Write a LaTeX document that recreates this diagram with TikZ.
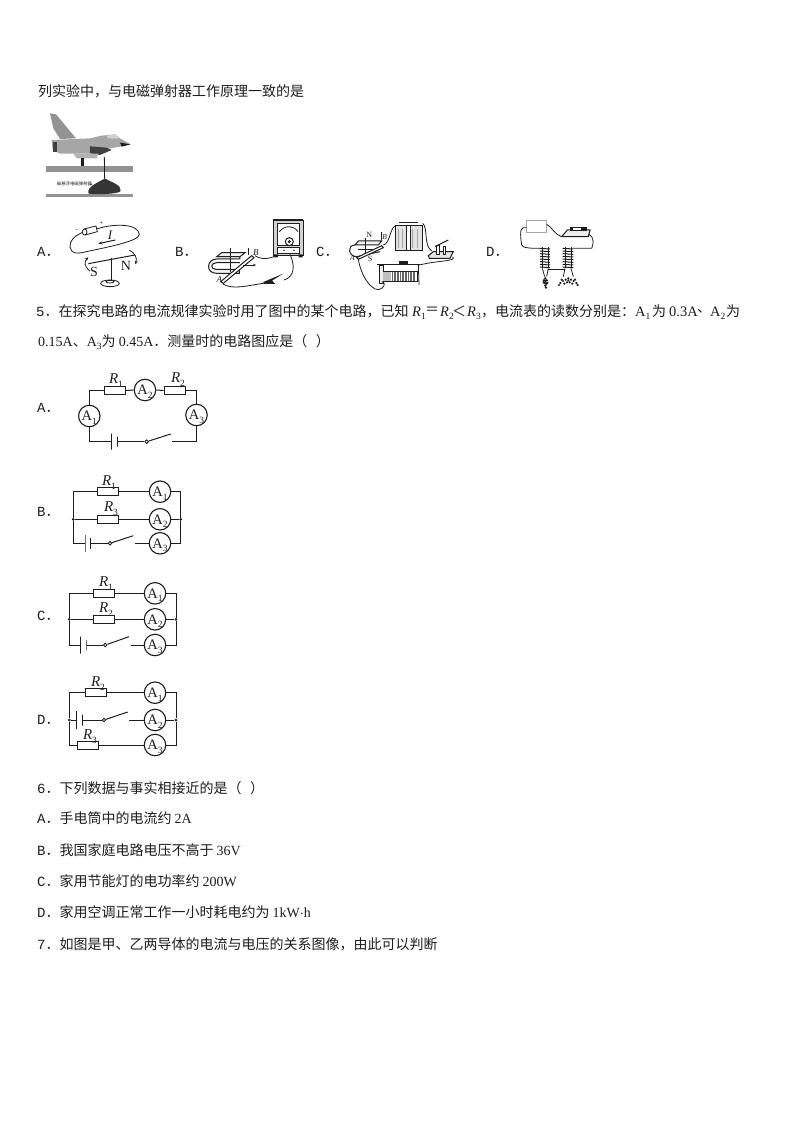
\documentclass[tikz,border=0pt]{standalone}
\usepackage{fontspec}
\setmainfont{Liberation Serif}
\newfontfamily\cjk{Noto Sans CJK SC}
\newfontfamily\mon{Liberation Mono}
\usetikzlibrary{arrows.meta}
\definecolor{ink}{HTML}{1E1E1E}
\tikzset{
  para/.style={anchor=west,inner sep=0pt,font=\fontsize{14}{14}\selectfont\cjk,text=ink},
  latin/.style={anchor=base west,inner sep=0pt,font=\fontsize{14.5}{14.5}\selectfont\rmfamily,text=ink},
  optlabel/.style={anchor=west,inner sep=0pt,font=\fontsize{14}{14}\selectfont\mon,text=ink},
  wire/.style={draw=ink,line width=1pt},
  thinw/.style={draw=ink,line width=0.8pt},
  meter/.style={circle,draw=ink,line width=1.1pt,fill=white,inner sep=0pt,minimum size=21.5pt,font=\fontsize{14.5}{14.5}\selectfont,text=ink},
  resbox/.style={rectangle,draw=ink,line width=1pt,fill=white,inner sep=0pt,minimum width=21pt,minimum height=8pt},
  rlabel/.style={inner sep=0pt,font=\fontsize{15}{15}\selectfont\itshape,text=ink},
  plate/.style={rectangle,draw=ink,line width=1pt,inner sep=0pt,minimum width=0pt},
  swdot/.style={circle,draw=ink,line width=0.9pt,fill=white,inner sep=0pt,minimum size=3.6pt},
  jdot/.style={circle,fill=ink,inner sep=0pt,minimum size=3pt},
  smalllab/.style={inner sep=0pt,text=ink},
}
\newcommand{\sB}[1]{\raisebox{-0.25em}[0pt][0pt]{\fontsize{9.5}{9.5}\selectfont\upshape #1}}
\newcommand{\Aname}[1]{A\sB{#1}}
\newcommand{\fdot}{{\cjk ．}}
\begin{document}
\begin{tikzpicture}[x=1pt,y=-1pt]
\useasboundingbox (0,0) rectangle (794,1123);
\fill[white] (0,0) rectangle (794,1123);

% ---------- text ----------
\node[para] (t0) at (38,91) {列实验中，与电磁弹射器工作原理一致的是};
\node[para] (t5a) at (36,311) {{\mon 5}．在探究电路的电流规律实验时用了图中的某个电路，已知};
\node[latin] (t5r1) at (412,316) {\itshape R\sB{1}};
\node[para] (t5eq) at (425,311) {＝};
\node[latin] (t5r2) at (440,316) {\itshape R\sB{2}};
\node[para] (t5lt) at (452,311) {＜};
\node[latin] (t5r3) at (467,316) {\itshape R\sB{3}};
\node[para] (t5c) at (481,311) {，电流表的读数分别是：};
\node[latin] (t5a1) at (635,316) {A\sB{1}};
\node[para] (t5w1) at (652,311) {为};
\node[latin] (t5v1) at (669,316) {0.3A};
\node[para] (t5dun) at (697,311) {、};
\node[latin] (t5a2) at (710,316) {A\sB{2}};
\node[para] (t5w2) at (726,311) {为};
\node[para] (t5b) at (38,341) {{\rmfamily 0.15A}、{\rmfamily A}\sB{\rmfamily 3}为 {\rmfamily 0.45A}．测量时的电路图应是（\hspace{0.6em}）};
\node[optlabel] (o4a) at (37,252) {A\fdot};
\node[optlabel] (o4b) at (175,252) {B\fdot};
\node[optlabel] (o4c) at (316,252) {C\fdot};
\node[optlabel] (o4d) at (486,252) {D\fdot};
\node[optlabel] (o5a) at (37,408) {A\fdot};
\node[optlabel] (o5b) at (37,512) {B\fdot};
\node[optlabel] (o5c) at (37,616) {C\fdot};
\node[optlabel] (o5d) at (37,720) {D\fdot};
\node[para] (t6) at (37,788) {{\mon 6}．下列数据与事实相接近的是（\hspace{0.6em}）};
\node[para] (t6a) at (37,818) {{\mon A}．手电筒中的电流约 {\rmfamily 2A}};
\node[para] (t6b) at (37,850) {{\mon B}．我国家庭电路电压不高于 {\rmfamily 36V}};
\node[para] (t6c) at (37,881) {{\mon C}．家用节能灯的电功率约 {\rmfamily 200W}};
\node[para] (t6d) at (37,912) {{\mon D}．家用空调正常工作一小时耗电约为 {\rmfamily 1kW$\cdot$h}};
\node[para] (t7) at (37,944) {{\mon 7}．如图是甲、乙两导体的电流与电压的关系图像，由此可以判断};

% ---------- plane ----------
\begin{scope}[shift={(40,105)},x=0.3333pt,y=-0.3333pt]
  \fill[gray!85] (18,183) rectangle (280,201);
  \fill[gray!85] (18,268) rectangle (280,275);
  \fill[gray!85] (30,25) -- (48,28) -- (108,100) -- (60,102) -- (40,70) -- cycle;
  \fill[gray!70] (35,105) -- (150,100) -- (185,92) -- (225,88) -- (240,100) -- (272,118) -- (240,125) -- (180,135) -- (150,146) -- (60,146) -- (38,135) -- cycle;
  \fill[ink!85] (40,110) rectangle (52,140);
  \fill[gray!50!black] (150,124) -- (200,128) -- (215,135) -- (180,150) -- (150,145) -- cycle;
  \fill[gray!60] (100,146) -- (175,146) -- (170,160) -- (110,160) -- cycle;
  \fill[ink] (124,158) rectangle (132,182);
  \fill[ink] (240,113) -- (272,118) -- (245,125) -- cycle;
  \fill[gray!35] (200,92) -- (225,88) -- (238,100) -- (205,100) -- cycle;
  \draw[ink,line width=0.8pt] (193,155) -- (194,222);
  \fill[ink!90] (145,265) .. controls (140,245) and (175,232) .. (192,222) -- (198,222)
     .. controls (215,232) and (245,240) .. (242,258) .. controls (240,268) and (150,270) .. (145,265) -- cycle;
  \node[smalllab,font=\fontsize{4.4}{4.4}\selectfont\cjk,anchor=west] (planelabel) at (50,237) {磁悬浮电磁弹射器};
  \draw[ink,line width=0.5pt] (planelabel.east) -- (150,240);
\end{scope}

% ---------- option 4A ----------
\begin{scope}[shift={(60,215)},x=0.3333pt,y=-0.3333pt]
  \draw[thinw] (110,42) .. controls (160,25) and (235,25) .. (238,58) .. controls (238,78) and (150,95) .. (65,113)
     .. controls (35,120) and (25,100) .. (32,82) .. controls (40,65) and (55,58) .. (68,52);
  \draw[thinw,fill=white] (72,42) -- (108,33) -- (112,50) -- (76,60) -- cycle;
  \draw[thinw,fill=white] (74,51) circle[x radius=7,y radius=9];
  \node[smalllab,font=\fontsize{7}{7}\selectfont] (a4minus) at (50,46) {-};
  \node[smalllab,font=\fontsize{7}{7}\selectfont] (a4plus) at (124,27) {+};
  \node[smalllab,font=\fontsize{13}{13}\selectfont\itshape] (a4I) at (150,60) {I};
  \draw[wire,-{Stealth[length=4pt,width=3pt]}] (166,75) -- (115,86);
  \draw[wire] (85,146) -- (225,120);
  \draw[wire] (154,128) -- (154,195);
  \draw[thinw,fill=white] (150,205) ellipse[x radius=28,y radius=10];
  \draw[thinw] (150,200) ellipse[x radius=12,y radius=4];
  \node[smalllab,font=\fontsize{14}{14}\selectfont] (a4S) at (102,170) {S};
  \node[smalllab,font=\fontsize{14}{14}\selectfont] (a4N) at (198,153) {N};
  \draw[thinw,-{Stealth[length=3.5pt,width=3pt]}] (90,168) .. controls (72,155) and (72,140) .. (85,127);
  \draw[thinw,-{Stealth[length=3.5pt,width=3pt]}] (208,105) .. controls (226,115) and (232,130) .. (226,148);
\end{scope}

% ---------- option 4B ----------
\begin{scope}[shift={(200,215)},x=0.3333pt,y=-0.3333pt]
  \draw[thinw,fill=gray!35] (220,15) rectangle (310,122);
  \fill[ink] (220,12) rectangle (310,19);
  \draw[thinw,fill=white] (232,25) rectangle (298,92);
  \draw[thinw] (238,50) .. controls (255,30) and (280,30) .. (294,50);
  \draw[wire,fill=white] (268,80) circle[radius=12];
  \fill[ink] (268,80) circle[radius=5];
  \draw[thinw,fill=white] (232,96) rectangle (298,116);
  \fill[ink] (252,106) circle[radius=2.5] (282,106) circle[radius=2.5];
  \fill[ink] (222,118) rectangle (234,127) (296,118) rectangle (308,127);
  \draw[wire,fill=gray!10] (50,125) -- (120,125) -- (135,113) -- (65,113) -- cycle;
  \draw[wire,fill=gray!10] (50,125) -- (120,125) -- (120,132) -- (50,132) .. controls (20,132) and (15,175) .. (50,175) -- (118,175) -- (118,163) -- (48,163) .. controls (30,163) and (32,143) .. (50,143) -- (120,143);
  \draw[thinw] (92,100) -- (92,172);
  \draw[thinw] (145,98) -- (145,120);
  \draw[wire,fill=white] (62,200) -- (155,122) -- (162,128) -- (70,205) -- cycle;
  \draw[thinw,-{Stealth[length=3pt,width=2.5pt]}] (130,150) -- (168,150);
  \node[smalllab,font=\fontsize{9}{9}\selectfont\itshape] (b4B) at (168,112) {B};
  \node[smalllab,font=\fontsize{9}{9}\selectfont\itshape] (b4A) at (58,193) {A};
  \draw[thinw] (165,122) .. controls (185,135) and (210,132) .. (232,120);
  \draw[thinw] (270,118) .. controls (285,150) and (285,185) .. (252,195);
  \draw[thinw] (68,207) .. controls (100,225) and (140,212) .. (190,205);
  \fill[ink] (190,201) -- (250,176) -- (216,197) -- (226,207) -- (190,207) -- cycle;
\end{scope}

% ---------- option 4C ----------
\begin{scope}[shift={(340,215)},x=0.3333pt,y=-0.3333pt]
  \draw[wire,fill=gray!10] (45,90) -- (115,90) -- (125,78) -- (55,78) -- cycle;
  \draw[wire] (45,90) .. controls (20,90) and (25,125) .. (50,125) -- (120,110);
  \draw[wire] (55,105) -- (115,105);
  \draw[thinw] (75,70) -- (75,115);
  \draw[wire,fill=white] (50,128) -- (125,92) -- (130,98) -- (55,133) -- cycle;
  \node[smalllab,font=\fontsize{8}{8}\selectfont] (c4N) at (88,60) {N};
  \node[smalllab,font=\fontsize{8}{8}\selectfont] (c4S) at (90,132) {S};
  \node[smalllab,font=\fontsize{7.5}{7.5}\selectfont\itshape] (c4B) at (134,65) {B};
  \node[smalllab,font=\fontsize{7.5}{7.5}\selectfont\itshape] (c4A) at (37,130) {A};
  \draw[thinw] (125,75) -- (125,50);
  \draw[thinw] (130,90) .. controls (150,85) and (150,40) .. (165,33);
  \draw[thinw,fill=gray!22] (165,30) rectangle (248,105);
  \foreach \xp in {176,186,205,218,232} {\draw[gray!70,line width=0.8pt] (\xp,42) -- (\xp,100);}
  \draw[thinw] (165,30) -- (248,30);
  \draw[thinw,fill=white] (200,30) rectangle (210,105);
  \draw[ink,line width=1.1pt] (178,22) -- (235,22);
  \draw[thinw] (248,25) .. controls (265,40) and (250,90) .. (275,108);
  \draw[wire,fill=gray!20] (265,122) -- (280,110) -- (340,110) -- (330,130) -- (268,130) -- cycle;
  \draw[wire,fill=white] (290,118) rectangle (298,92);
  \draw[wire,fill=white] (310,118) rectangle (318,95);
  \draw[wire] (285,95) -- (325,75);
  \draw[thinw] (338,125) .. controls (350,140) and (300,135) .. (238,150);
  \draw[thinw] (110,148) -- (240,148);
  \draw[thinw,fill=gray!15] (118,150) rectangle (130,205);
  \draw[thinw,fill=white] (130,168) rectangle (232,200);
  \fill[ink!70] (155,170) rectangle (225,198);
  \foreach \xp in {160,168,...,224} {\draw[white,line width=0.3pt] (\xp,170) -- (\xp,198);}
  \fill[gray!50] (130,170) rectangle (152,198);
  \draw[thinw] (235,148) -- (237,210);
  \draw[thinw,fill=ink] (178,140) rectangle (202,146);
  \draw[thinw] (55,130) .. controls (60,180) and (100,240) .. (125,220) .. controls (140,210) and (130,200) .. (125,200);
\end{scope}

% ---------- option 4D ----------
\begin{scope}[shift={(510,215)},x=0.3333pt,y=-0.3333pt]
  \draw[draw=gray!70,line width=0.8pt] (50,17) rectangle (110,53);
  \draw[thinw] (50,38) -- (40,38) .. controls (28,40) and (32,70) .. (35,90) .. controls (36,100) and (70,100) .. (90,100);
  \draw[thinw] (110,28) .. controls (125,35) and (135,60) .. (155,65);
  \draw[wire,fill=gray!15] (155,65) -- (172,45) -- (240,45) -- (235,65) -- cycle;
  \fill[ink] (180,35) rectangle (230,48);
  \fill[white] (190,38) rectangle (212,45);
  \draw[thinw] (235,58) .. controls (255,65) and (250,90) .. (245,100) -- (190,100);
  \foreach \yp in {100,108,...,156} {
    \draw[wire] (90,\yp) -- (120,\yp+2);
    \draw[wire] (158,\yp) -- (190,\yp+2);
  }
  \draw[wire] (97,95) -- (97,160) (115,95) -- (115,160);
  \draw[wire] (165,95) -- (165,160) (183,95) -- (183,160);
  \draw[thinw] (97,160) -- (104,185) (115,160) -- (110,185);
  \draw[thinw] (165,160) -- (160,185) (183,160) -- (190,185);
  \draw[thinw] (115,163) -- (165,163);
  \foreach \dx/\dy in {0/0,-4/6,4/6,-2/14,3/16,0/22,-5/12,6/14,0/8,2/28} {\fill[ink] (106+\dx,190+\dy) circle[radius=4];}
  \foreach \dx/\dy in {0/0,-8/4,8/4,-16/8,16/8,-24/14,24/14,-4/12,4/12,-12/16,12/16,-28/20,28/20,0/6,-20/4,20/4} {\fill[ink] (175+\dx,190+\dy) circle[radius=3.6];}
\end{scope}

% ---------- circuit 5A ----------
\node[meter] (aA1) at (89.3,416) {\Aname{1}};
\node[meter] (aA2) at (145,390) {\Aname{2}};
\node[meter] (aA3) at (196.5,415) {\Aname{3}};
\node[resbox] (aR1) at (114.5,390.5) {};
\node[resbox] (aR2) at (174.5,390.5) {};
\node[rlabel] (aL1) at (116,378.5) {R\sB{1}};
\node[rlabel] (aL2) at (178,377.5) {R\sB{2}};
\node[plate,minimum height=16pt] (aPl) at (111.7,441.7) {};
\node[plate,minimum height=10pt] (aPs) at (117.3,441.7) {};
\node[swdot] (aSw) at (146.7,441.7) {};
\coordinate (aTip) at (170.7,434);
\coordinate (aCon) at (172,441.7);
\draw[wire] (aA1.north) |- (aR1.west);
\draw[wire] (aR1.east) -- (aA2.west);
\draw[wire] (aA2.east) -- (aR2.west);
\draw[wire] (aR2.east) -| (aA3.north);
\draw[wire] (aA1.south) |- (aPl);
\draw[wire] (aPs) -- (aSw.west);
\draw[wire] (aSw) -- (aTip);
\draw[wire] (aCon) -| (aA3.south);

% ---------- circuit 5B ----------
\node[meter] (bA1) at (160,491.7) {\Aname{1}};
\node[meter] (bA2) at (160,519.3) {\Aname{2}};
\node[meter] (bA3) at (160,543.3) {\Aname{3}};
\node[resbox] (bR1) at (107.8,491.7) {};
\node[resbox] (bR3) at (107.8,519.3) {};
\node[rlabel] (bL1) at (109,480.5) {R\sB{1}};
\node[rlabel] (bL3) at (111,506.5) {R\sB{3}};
\node[jdot] (bJl) at (73.3,519.3) {};
\node[jdot] (bJr) at (180.7,519.3) {};
\node[plate,minimum height=17pt] (bPl) at (85,543.3) {};
\node[plate,minimum height=11pt] (bPs) at (90.3,543.3) {};
\node[swdot] (bSw) at (110,543.3) {};
\coordinate (bTip) at (133.3,535.7);
\coordinate (bCon) at (135,543.3);
\draw[wire] (bR1.west) -| (bJl);
\draw[wire] (bPl) -| (bJl);
\draw[wire] (bJl) -- (bR3.west);
\draw[wire] (bR1.east) -- (bA1.west);
\draw[wire] (bR3.east) -- (bA2.west);
\draw[wire] (bA1.east) -| (bJr);
\draw[wire] (bA2.east) -- (bJr);
\draw[wire] (bA3.east) -| (bJr);
\draw[wire] (bPs) -- (bSw.west);
\draw[wire] (bSw) -- (bTip);
\draw[wire] (bCon) -- (bA3.west);

% ---------- circuit 5C ----------
\node[meter] (cA1) at (155,593.3) {\Aname{1}};
\node[meter] (cA2) at (155,619.3) {\Aname{2}};
\node[meter] (cA3) at (155,645) {\Aname{3}};
\node[resbox] (cR1) at (103.7,593.3) {};
\node[resbox] (cR2) at (103.7,619.3) {};
\node[rlabel] (cL1) at (106,581.5) {R\sB{1}};
\node[rlabel] (cL2) at (106,607.5) {R\sB{2}};
\node[jdot] (cJl) at (69.3,619.3) {};
\node[jdot] (cJr) at (176,619.3) {};
\node[plate,minimum height=17pt] (cPl) at (80.7,645) {};
\node[plate,minimum height=10pt] (cPs) at (86,645) {};
\node[swdot] (cSw) at (105.3,645) {};
\coordinate (cTip) at (129,636.7);
\coordinate (cCon) at (130.7,645);
\draw[wire] (cR1.west) -| (cJl);
\draw[wire] (cPl) -| (cJl);
\draw[wire] (cJl) -- (cR2.west);
\draw[wire] (cR1.east) -- (cA1.west);
\draw[wire] (cR2.east) -- (cA2.west);
\draw[wire] (cA1.east) -| (cJr);
\draw[wire] (cA2.east) -- (cJr);
\draw[wire] (cA3.east) -| (cJr);
\draw[wire] (cPs) -- (cSw.west);
\draw[wire] (cSw) -- (cTip);
\draw[wire] (cCon) -- (cA3.west);

% ---------- circuit 5D ----------
\node[meter] (dA1) at (155,692.7) {\Aname{1}};
\node[meter] (dA2) at (155,720) {\Aname{2}};
\node[meter] (dA3) at (155,745) {\Aname{3}};
\node[resbox] (dR2) at (96.2,692.7) {};
\node[resbox] (dR3) at (87.8,745) {};
\node[rlabel] (dL2) at (98,681.5) {R\sB{2}};
\node[rlabel] (dL3) at (90,735) {R\sB{3}};
\node[jdot] (dJl) at (69.3,720) {};
\node[jdot] (dJr) at (176,720) {};
\node[plate,minimum height=18pt] (dPl) at (76.7,720) {};
\node[plate,minimum height=11pt] (dPs) at (82.7,720) {};
\node[swdot] (dSw) at (104,720) {};
\coordinate (dTip) at (127.7,712);
\coordinate (dCon) at (129.3,720);
\draw[wire] (dR2.west) -| (dJl);
\draw[wire] (dR3.west) -| (dJl);
\draw[wire] (dJl) -- (dPl);
\draw[wire] (dR2.east) -- (dA1.west);
\draw[wire] (dR3.east) -- (dA3.west);
\draw[wire] (dA1.east) -| (dJr);
\draw[wire] (dA2.east) -- (dJr);
\draw[wire] (dA3.east) -| (dJr);
\draw[wire] (dPs) -- (dSw.west);
\draw[wire] (dSw) -- (dTip);
\draw[wire] (dCon) -- (dA2.west);
\end{tikzpicture}
\end{document}
